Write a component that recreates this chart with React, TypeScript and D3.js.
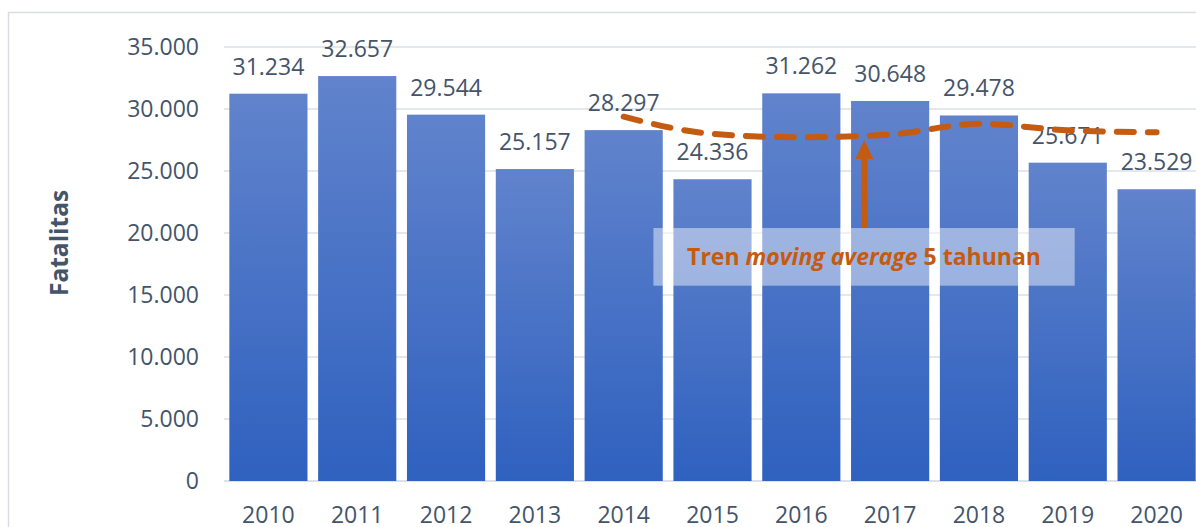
import React from 'react';
import * as d3 from 'd3';

// Data
const years = ['2010', '2011', '2012', '2013', '2014', '2015', '2016', '2017', '2018', '2019', '2020'];
const fatalities = [31234, 32657, 29544, 25157, 28297, 24336, 31262, 30648, 29478, 25671, 23529];
// 5-year moving average trend (starts at 2014)
const trendYears = ['2014', '2015', '2016', '2017', '2018', '2019', '2020'];
const trendValues = [29378, 27998, 27719, 27940, 28804, 28279, 28118];
const yTicks = [0, 5000, 10000, 15000, 20000, 25000, 30000, 35000];

const fmt = (v: number) => (v === 0 ? '0' : d3.format(',')(v).replace(/,/g, '.'));

const W = 1196;
const H = 527;
const margin = { top: 47, left: 224, right: -5, bottom: 46 };
const textColor = '#44546A';
const orange = '#C55A11';
const font = '"Open Sans", sans-serif';

const App: React.FC = () => {
  const x = d3.scaleBand<string>().domain(years).range([margin.left, W - margin.right]).paddingInner(0.12).paddingOuter(0.06);
  const y = d3.scaleLinear().domain([0, 35000]).range([H - margin.bottom, margin.top]);
  const bw = x.bandwidth();

  const line = d3.line<number>()
    .x((_, i) => (x(trendYears[i]) || 0) + bw / 2)
    .y(d => y(d))
    .curve(d3.curveMonotoneX);

  // annotation box in data units
  const boxTop = y(20400);
  const boxBottom = y(15750);
  const boxLeft = (x('2015') || 0) - 20;
  const boxRight = (x('2019') || 0) + 46;
  const arrowX = (x('2017') || 0) + bw * 0.17;
  const arrowTip = y(27900) + 5;

  return (
    <svg width={W} height={H} style={{ display: 'block', position: 'absolute', left: 0, top: 0 }}>
      <defs>
        <linearGradient id="barGrad" x1="0" y1="0" x2="0" y2="1">
          <stop offset="0%" stopColor="#6183CC" />
          <stop offset="100%" stopColor="#2F61BF" />
        </linearGradient>
      </defs>
      <rect x={0} y={0} width={W} height={H} fill="#fff" />
      <rect x={8.5} y={12.5} width={W + 20} height={H + 20} fill="none" stroke="#D9DDE3" strokeWidth={1.5} />
      {/* gridlines */}
      {yTicks.map(t => (
        <line key={t} x1={margin.left} x2={W} y1={y(t)} y2={y(t)} stroke="#DDE0E4" strokeWidth={t === 0 ? 2 : 1.5} />
      ))}
      {/* y tick labels */}
      {yTicks.map(t => (
        <text key={'l' + t} x={199} y={y(t)} dy="0.36em" textAnchor="end" fontFamily={font} fontSize={23} fill={textColor}>
          {fmt(t)}
        </text>
      ))}
      <text transform={`translate(68,${y(19200)}) rotate(-90)`} textAnchor="middle" fontFamily={font} fontWeight="bold" fontSize={24.5} fill={textColor}>
        Fatalitas
      </text>
      {/* bars */}
      {years.map((yr, i) => (
        <rect key={yr} x={x(yr)} y={y(fatalities[i])} width={bw} height={y(0) - y(fatalities[i])} fill="url(#barGrad)" />
      ))}
      {/* value labels */}
      {years.map((yr, i) => (
        <text key={'v' + yr} x={(x(yr) || 0) + bw / 2} y={y(fatalities[i]) - 19} textAnchor="middle" fontFamily={font} fontSize={23} fill={textColor}>
          {fmt(fatalities[i])}
        </text>
      ))}
      {/* x labels */}
      {years.map(yr => (
        <text key={'x' + yr} x={(x(yr) || 0) + bw / 2} y={523} textAnchor="middle" fontFamily={font} fontSize={23} fill={textColor}>
          {yr}
        </text>
      ))}
      {/* trend line */}
      <path d={line(trendValues) || ''} fill="none" stroke={orange} strokeWidth={6} strokeDasharray="17 14" strokeLinecap="round" />
      {/* annotation */}
      <rect x={boxLeft} y={boxTop} width={boxRight - boxLeft} height={boxBottom - boxTop} fill="#fff" fillOpacity={0.45} />
      <line x1={arrowX} x2={arrowX} y1={boxTop} y2={arrowTip + 16} stroke={orange} strokeWidth={6} />
      <path d={`M${arrowX},${arrowTip} L${arrowX - 9},${arrowTip + 19} L${arrowX + 9},${arrowTip + 19} Z`} fill={orange} />
      <text x={864} y={265} textAnchor="middle" fontFamily={font} fontWeight="bold" fontSize={23} fill={orange}>
        Tren <tspan fontStyle="italic">moving average</tspan> 5 tahunan
      </text>
    </svg>
  );
};

export default App;
